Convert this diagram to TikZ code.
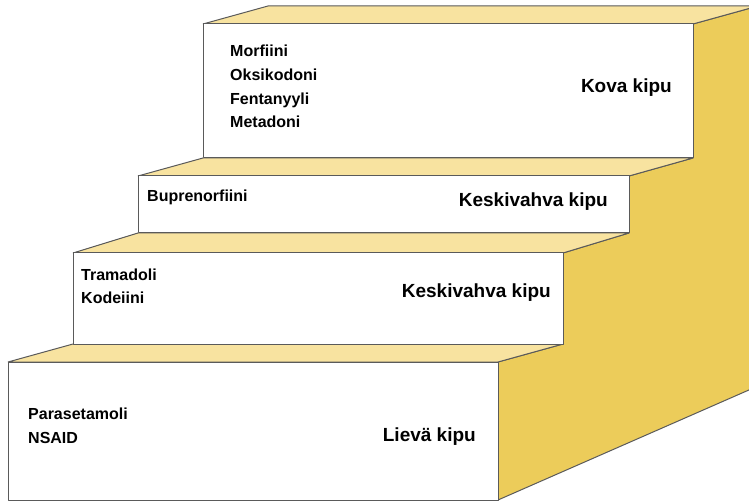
\documentclass[tikz,border=0pt]{standalone}
\usepackage{fontspec}
\setmainfont{Liberation Sans}
\definecolor{topyellow}{RGB}{248,227,160}
\definecolor{sideyellow}{RGB}{236,204,90}
\definecolor{edgegray}{RGB}{90,90,90}
\begin{document}
\begin{tikzpicture}[x=1pt,y=-1pt,
  edge/.style={draw=edgegray, line width=1pt, line join=bevel},
  topface/.style={edge, fill=topyellow},
  sideface/.style={edge, fill=sideyellow},
  frontface/.style={edge, fill=white},
  drug/.style={anchor=base west, font=\bfseries\fontsize{16}{23.7}\selectfont, align=left, inner sep=0pt},
  level/.style={anchor=base east, font=\bfseries\fontsize{19}{23}\selectfont, inner sep=0pt}]
\useasboundingbox (0,0) rectangle (749,502);
% side
\path[sideface] (498,500) -- (498,362) -- (563,344) -- (563,253) -- (629,233) -- (629,176) -- (693,158) -- (693,24) -- (758,6) -- (758,386) -- cycle;
% top faces
\path[topface] (8,362) -- (498,362) -- (563,344) -- (73,344) -- cycle;
\path[topface] (73,253) -- (563,253) -- (629,233) -- (138,233) -- cycle;
\path[topface] (138,176) -- (629,176) -- (693,158) -- (203,158) -- cycle;
\path[topface] (203,24) -- (693,24) -- (758,6) -- (268,6) -- cycle;
% front faces
\path[frontface] (8,362) rectangle (498,500);
\path[frontface] (73,253) rectangle (563,344);
\path[frontface] (138,176) rectangle (629,233);
\path[frontface] (203,24) rectangle (693,158);
% texts (anchor = baseline of the last line)
\node[drug] (d4) at (230,128) {Morfiini\\Oksikodoni\\Fentanyyli\\Metadoni};
\node[drug] (d3) at (147,202) {Buprenorfiini};
\node[drug] (d2) at (81,304) {Tramadoli\\Kodeiini};
\node[drug] (d1) at (28,443) {Parasetamoli\\NSAID};
\node[level] (l4) at (672,93) {Kova kipu};
\node[level] (l3) at (608,207) {Keskivahva kipu};
\node[level] (l2) at (551,298) {Keskivahva kipu};
\node[level] (l1) at (476,441) {Lievä kipu};
\end{tikzpicture}
\end{document}
